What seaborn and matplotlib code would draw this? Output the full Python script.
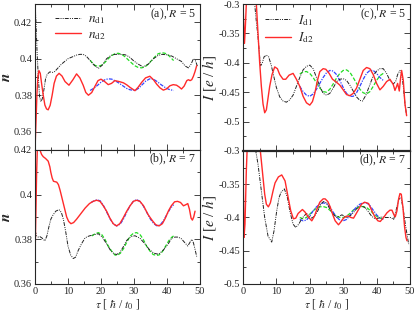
import numpy as np
import pandas as pd
import matplotlib
matplotlib.use("Agg")
import matplotlib.pyplot as plt
from matplotlib.ticker import MultipleLocator, FormatStrFormatter
import seaborn as sns

# ---- panel (a): occupations, R = 5 ----
t_a_d1 = [0, 0.3, 0.6, 1.0, 1.4, 1.8, 2.2, 2.7, 3.2, 3.7, 4.5, 5.3, 6.0, 7.0, 8.0, 9.0, 10.0, 11.3,
          12.6, 13.6, 14.6, 15.6, 16.7, 17.9, 19.2, 20.4, 21.7, 23.0, 24.2, 25.7, 27.3, 28.6, 29.8,
          31.3, 32.8, 34.3, 35.9, 37.2, 38.4, 39.9, 41.4, 42.9, 44.4, 45.5, 46.5, 47.3, 48.0, 48.6, 49.2]
n_a_d1 = [0.432, 0.42, 0.405, 0.39, 0.379, 0.3765, 0.378, 0.383, 0.389, 0.3915, 0.3928, 0.3925, 0.393,
          0.395, 0.397, 0.3985, 0.400, 0.401, 0.402, 0.4024, 0.4024, 0.4013, 0.399, 0.3965, 0.3947,
          0.3965, 0.400, 0.4018, 0.4024, 0.4024, 0.4022, 0.401, 0.399, 0.397, 0.3955, 0.397, 0.400,
          0.4017, 0.4024, 0.4022, 0.4015, 0.400, 0.3985, 0.396, 0.395, 0.397, 0.400, 0.399, 0.396]
t_a_d2 = [0, 0.3, 0.6, 0.9, 1.2, 1.6, 2.0, 2.5, 3.0, 3.5, 4.0, 4.6, 5.2, 5.8, 6.5, 7.3, 8.2, 9.1, 10.3,
          11.5, 12.6, 13.6, 14.6, 15.4, 16.2, 17.2, 18.2, 19.1, 20.0, 21.1, 22.2, 23.2, 24.2, 25.5,
          26.8, 27.8, 28.8, 30.3, 31.3, 32.3, 33.5, 34.8, 35.9, 36.9, 37.9, 38.9, 39.9, 40.9, 41.9,
          42.9, 43.7, 44.4, 45.2, 46.0, 46.5, 47.0, 47.5, 48.0, 48.5, 49.0]
n_a_d2 = [0.35, 0.365, 0.381, 0.3905, 0.3935, 0.392, 0.3865, 0.380, 0.3746, 0.3725, 0.372, 0.3745,
          0.380, 0.3865, 0.3905, 0.392, 0.3905, 0.3875, 0.3855, 0.3885, 0.3917, 0.3895, 0.3855,
          0.3815, 0.380, 0.3815, 0.385, 0.388, 0.3888, 0.3875, 0.3858, 0.3865, 0.388, 0.3875, 0.3868,
          0.3857, 0.3843, 0.3825, 0.3845, 0.387, 0.3895, 0.3904, 0.3885, 0.386, 0.384, 0.3828,
          0.3835, 0.3852, 0.3858, 0.3855, 0.3845, 0.3834, 0.385, 0.388, 0.3885, 0.388, 0.3885,
          0.3904, 0.393, 0.3962]
t_a_fit1 = [16.7, 17.5, 18.3, 19.2, 20.2, 21.2, 22.2, 23.2, 24.2, 25.2, 26.2, 27.2, 28.2, 29.2, 30.2,
            31.2, 32.3, 33.3, 34.3, 35.3, 36.3, 37.3, 38.4, 39.4, 40.4, 41.2, 42.0]
n_a_fit1 = [0.3992, 0.3975, 0.3962, 0.3958, 0.3965, 0.398, 0.400, 0.4017, 0.4027, 0.403, 0.4025,
            0.4012, 0.3995, 0.3978, 0.3962, 0.3953, 0.395, 0.3955, 0.397, 0.399, 0.401, 0.4027,
            0.4033, 0.403, 0.402, 0.4005, 0.399]
t_a_fit2 = [16.7, 17.8, 19.0, 20.1, 21.2, 22.2, 23.3, 24.4, 25.5, 26.6, 27.7, 28.8, 30.3, 31.4, 32.5,
            33.6, 34.8, 35.9, 37.0, 38.2, 39.4, 40.6, 42.0]
n_a_fit2 = [0.3826, 0.3838, 0.3855, 0.3873, 0.3885, 0.389, 0.3888, 0.3878, 0.3866, 0.3852, 0.3838,
            0.383, 0.3826, 0.3838, 0.3858, 0.3878, 0.389, 0.3888, 0.3875, 0.3858, 0.3843, 0.3832, 0.3826]

# ---- panel (b): occupations, R = 7 ----
t_b_d1 = [0, 0.5, 1.0, 1.5, 2.2, 3.0, 3.6, 4.2, 4.8, 5.5, 6.3, 7.3, 8.0, 8.6, 9.3, 10.0, 10.8, 11.6,
          12.3, 13.1, 14.1, 15.2, 16.4, 17.7, 19.2, 20.4, 21.7, 22.9, 24.0, 24.7, 25.7, 26.7, 27.8,
          29.0, 30.3, 31.8, 33.3, 34.6, 36.0, 37.4, 38.8, 40.4, 41.4, 42.4, 43.4, 44.4, 45.4, 46.3,
          46.9, 47.5, 48.0, 48.5, 49.0]
n_b_d1 = [0.384, 0.3815, 0.381, 0.3812, 0.3805, 0.3793, 0.3815, 0.3855, 0.389, 0.391, 0.3926, 0.3933,
          0.392, 0.389, 0.3835, 0.377, 0.373, 0.3714, 0.372, 0.375, 0.378, 0.3807, 0.3815, 0.382,
          0.3825, 0.381, 0.378, 0.375, 0.3735, 0.3732, 0.374, 0.3765, 0.3795, 0.3812, 0.3816, 0.3805,
          0.378, 0.3755, 0.3738, 0.3733, 0.375, 0.378, 0.3805, 0.381, 0.381, 0.3802, 0.3785, 0.377,
          0.3785, 0.380, 0.3785, 0.3755, 0.3723]
t_b_d2 = [0, 0.25, 0.5, 0.8, 1.5, 2.0, 2.5, 3.2, 4.0, 4.5, 4.8, 5.2, 5.6, 6.1, 6.6, 7.1, 7.6, 8.1, 8.6,
          9.1, 9.6, 10.2, 10.9, 11.7, 12.6, 13.9, 15.2, 16.5, 17.6, 18.7, 19.7, 20.7, 21.7, 22.7,
          23.7, 24.7, 25.7, 26.7, 27.8, 28.8, 29.8, 30.8, 31.8, 32.9, 34.3, 35.5, 36.6, 37.6, 38.6,
          39.5, 40.4, 41.3, 42.3, 43.2, 44.1, 45.0, 45.7, 46.3, 46.8, 47.3, 47.7, 48.1, 48.5]
n_b_d2 = [0.371, 0.39, 0.41, 0.425, 0.42, 0.418, 0.417, 0.4162, 0.415, 0.4125, 0.410, 0.4075, 0.406,
          0.4058, 0.4056, 0.4045, 0.402, 0.399, 0.396, 0.393, 0.390, 0.388, 0.387, 0.3875, 0.389,
          0.3915, 0.394, 0.396, 0.397, 0.3975, 0.397, 0.395, 0.3926, 0.3895, 0.387, 0.386, 0.387,
          0.3895, 0.3926, 0.395, 0.397, 0.3975, 0.397, 0.395, 0.391, 0.3885, 0.3865, 0.386, 0.387,
          0.3895, 0.3926, 0.395, 0.3968, 0.397, 0.3965, 0.395, 0.3955, 0.396, 0.3935, 0.3895,
          0.3886, 0.390, 0.3926]
t_b_fit1 = [17.2, 18.2, 19.2, 20.2, 21.2, 22.2, 23.2, 24.2, 24.9, 25.9, 26.9, 27.9, 28.9, 29.9, 30.8,
            31.8, 32.8, 33.8, 34.8, 35.8, 36.8, 37.6, 38.6, 39.6, 40.6, 41.5, 42.0]
n_b_fit1 = [0.3815, 0.3825, 0.383, 0.3822, 0.380, 0.377, 0.3748, 0.373, 0.3728, 0.3738, 0.376, 0.379,
            0.3815, 0.3828, 0.383, 0.3822, 0.380, 0.377, 0.3748, 0.3732, 0.3728, 0.373, 0.3745,
            0.377, 0.3795, 0.381, 0.3815]
t_b_fit2 = [17.0, 18.0, 18.8, 19.8, 20.8, 21.8, 22.8, 23.8, 24.8, 25.8, 26.8, 27.8, 28.8, 29.8, 30.8,
            31.8, 32.8, 33.9, 35.0, 36.0, 37.0, 38.0, 39.0, 40.0, 41.0, 42.0]
n_b_fit2 = [0.3965, 0.3973, 0.3977, 0.3972, 0.395, 0.392, 0.389, 0.3868, 0.386, 0.3868, 0.389,
            0.3922, 0.395, 0.397, 0.3978, 0.397, 0.395, 0.392, 0.389, 0.387, 0.386, 0.3865, 0.3885,
            0.3912, 0.3938, 0.3955]

# ---- panel (c): currents, R = 5 ----
t_c_d1 = [0, 3.0, 3.5, 4.0, 4.5, 5.0, 5.3, 5.8, 6.3, 7.0, 7.7, 8.5, 9.3, 10.0, 11.0, 12.0, 13.0, 14.0,
          15.0, 16.0, 17.0, 18.0, 19.0, 20.0, 21.0, 22.0, 23.0, 24.0, 25.0, 26.0, 27.0, 28.0, 29.0,
          30.0, 31.0, 32.0, 33.0, 34.0, 35.0, 35.8, 36.8, 38.0, 39.0, 40.0, 41.0, 42.0, 43.0, 44.0,
          45.0, 45.7, 46.3, 47.0, 47.5, 48.0, 48.5, 49.0]
i_c_d1 = [-0.28, -0.28, -0.30, -0.33, -0.356, -0.39, -0.405, -0.40, -0.39, -0.387, -0.39, -0.405,
          -0.425, -0.442, -0.458, -0.465, -0.467, -0.463, -0.455, -0.44, -0.425, -0.412, -0.406,
          -0.404, -0.41, -0.425, -0.44, -0.452, -0.455, -0.452, -0.443, -0.432, -0.428, -0.427,
          -0.43, -0.438, -0.448, -0.458, -0.464, -0.465, -0.455, -0.437, -0.422, -0.414, -0.41,
          -0.41, -0.418, -0.43, -0.436, -0.432, -0.42, -0.413, -0.418, -0.44, -0.47, -0.49]
t_c_d2 = [0, 0.2, 0.45, 0.7, 1.0, 1.3, 3.5, 4.0, 4.5, 5.0, 5.5, 6.0, 6.5, 7.0, 7.5, 8.0, 8.7, 9.5, 10.3,
          11.0, 12.0, 12.8, 13.8, 15.0, 16.0, 17.0, 18.0, 19.0, 20.0, 20.8, 21.5, 22.3, 23.0, 24.0,
          24.8, 25.8, 26.8, 27.8, 29.0, 30.0, 31.0, 32.0, 33.0, 34.0, 35.0, 36.0, 37.0, 38.0, 39.0,
          40.0, 41.0, 42.0, 43.0, 44.0, 45.0, 45.5, 46.0, 46.3, 46.8, 47.2, 47.5, 48.0, 48.5, 49.0]
i_c_d2 = [-0.30, -0.33, -0.367, -0.34, -0.30, -0.28, -0.28, -0.30, -0.35, -0.40, -0.44, -0.47,
          -0.485, -0.48, -0.46, -0.44, -0.42, -0.407, -0.41, -0.42, -0.428, -0.428, -0.421, -0.418,
          -0.428, -0.44, -0.457, -0.468, -0.472, -0.466, -0.452, -0.43, -0.415, -0.41, -0.411,
          -0.418, -0.428, -0.432, -0.438, -0.446, -0.454, -0.456, -0.452, -0.443, -0.428, -0.413,
          -0.408, -0.41, -0.42, -0.435, -0.446, -0.44, -0.432, -0.428, -0.437, -0.447, -0.44,
          -0.435, -0.448, -0.425, -0.413, -0.43, -0.47, -0.49]
t_c_fit1 = list(range(17, 43))
i_c_fit1 = [-0.419, -0.4155, -0.4148, -0.418, -0.425, -0.434, -0.443, -0.449, -0.45, -0.445, -0.436,
            -0.426, -0.418, -0.413, -0.412, -0.416, -0.425, -0.435, -0.445, -0.451, -0.453, -0.449,
            -0.44, -0.43, -0.422, -0.418]
t_c_fit2 = list(range(17, 43))
i_c_fit2 = [-0.44, -0.449, -0.455, -0.457, -0.453, -0.445, -0.435, -0.425, -0.417, -0.413, -0.414,
            -0.42, -0.43, -0.442, -0.452, -0.457, -0.457, -0.451, -0.44, -0.428, -0.418, -0.413,
            -0.413, -0.418, -0.425, -0.43]

# ---- panel (d): currents, R = 7 ----
t_d_d1 = [0, 3.5, 4.5, 5.5, 6.5, 7.5, 8.6, 9.3, 10.1, 10.8, 11.4, 12.4, 13.3, 14.1, 15.0, 15.8, 16.7,
          17.6, 18.4, 19.1, 19.8, 20.6, 21.4, 22.4, 23.3, 24.1, 25.0, 26.0, 27.0, 28.1, 28.9, 29.6,
          30.4, 31.1, 32.0, 33.0, 34.0, 34.8, 35.6, 36.5, 37.5, 38.5, 39.6, 40.6, 41.6, 42.6, 43.5,
          44.3, 45.1, 45.8, 46.6, 47.3, 47.9, 48.6, 49.1, 49.6]
i_d_d1 = [-0.28, -0.29, -0.32, -0.36, -0.40, -0.428, -0.437, -0.42, -0.39, -0.37, -0.362, -0.357,
          -0.37, -0.392, -0.41, -0.415, -0.41, -0.402, -0.397, -0.394, -0.398, -0.401, -0.398, -0.39,
          -0.38, -0.376, -0.378, -0.387, -0.395, -0.40, -0.398, -0.396, -0.398, -0.40, -0.398,
          -0.393, -0.387, -0.383, -0.383, -0.385, -0.391, -0.398, -0.402, -0.401, -0.399, -0.40,
          -0.40, -0.40, -0.403, -0.39, -0.373, -0.37, -0.385, -0.41, -0.425, -0.44]
t_d_d2 = [0, 0.3, 0.6, 1.0, 1.3, 4.8, 5.2, 5.8, 6.5, 7.0, 7.6, 8.2, 9.0, 9.6, 10.6, 11.6, 12.6, 13.6,
          14.3, 15.1, 15.8, 16.5, 17.8, 18.6, 19.5, 20.6, 21.4, 22.1, 23.0, 24.0, 24.6, 25.4, 26.1,
          26.9, 27.6, 28.6, 29.4, 30.1, 31.0, 31.6, 32.3, 33.1, 33.8, 34.6, 35.5, 36.4, 37.6, 38.6,
          39.6, 40.4, 41.1, 42.1, 43.1, 44.0, 44.6, 45.2, 45.6, 46.1, 46.6, 47.0, 47.4, 47.9, 48.4,
          48.8, 49.1]
i_d_d2 = [-0.30, -0.43, -0.41, -0.33, -0.29, -0.29, -0.30, -0.33, -0.365, -0.38, -0.384, -0.378,
          -0.36, -0.348, -0.339, -0.336, -0.345, -0.372, -0.39, -0.402, -0.401, -0.394, -0.388,
          -0.392, -0.399, -0.405, -0.398, -0.388, -0.377, -0.372, -0.372, -0.376, -0.384, -0.396,
          -0.405, -0.411, -0.406, -0.401, -0.398, -0.398, -0.40, -0.401, -0.395, -0.388, -0.38,
          -0.377, -0.379, -0.39, -0.40, -0.405, -0.406, -0.40, -0.393, -0.389, -0.389, -0.396,
          -0.399, -0.39, -0.372, -0.364, -0.365, -0.385, -0.415, -0.43, -0.435]
t_d_fit1 = list(range(17, 43))
i_d_fit1 = [-0.40, -0.402, -0.40, -0.395, -0.39, -0.386, -0.384, -0.3835, -0.385, -0.389, -0.394,
            -0.398, -0.40, -0.40, -0.398, -0.394, -0.389, -0.386, -0.384, -0.3835, -0.385, -0.389,
            -0.394, -0.398, -0.401, -0.402]
t_d_fit2 = list(range(17, 43))
i_d_fit2 = [-0.403, -0.405, -0.404, -0.398, -0.39, -0.384, -0.38, -0.378, -0.379, -0.384, -0.392,
            -0.399, -0.404, -0.405, -0.403, -0.397, -0.39, -0.384, -0.38, -0.378, -0.378, -0.382,
            -0.389, -0.396, -0.401, -0.403]

n_ticks = [0.36, 0.38, 0.40, 0.42]
i_ticks = [-0.5, -0.45, -0.4, -0.35, -0.3]
panel_texts = [r"(a), $R$ = 5", r"(b), $R$ = 7", r"(c), $R$ = 5", r"(d), $R$ = 7"]

sns.set_style("ticks")
plt.rcParams["font.family"] = ["Liberation Serif", "DejaVu Serif"]
plt.rcParams["mathtext.fontset"] = "stix"
plt.rcParams["axes.unicode_minus"] = False
plt.rcParams["xtick.direction"] = "in"
plt.rcParams["ytick.direction"] = "in"

RED = "#ff2a2a"
GREEN = "#22dd22"
BLUE = "#3344ff"
DASHDOTDOT = (0, (4, 1.2, 1, 1.2, 1, 1.2))


def draw(ax, t1, v1, t2, v2, tf1, vf1, tf2, vf2):
    # fits first so the data lines sit on top where they overlap
    sns.lineplot(x=tf1, y=vf1, ax=ax, color=GREEN, lw=0.9, linestyle=(0, (3, 1.5)),
                 sort=False, estimator=None)
    sns.lineplot(x=tf2, y=vf2, ax=ax, color=BLUE, lw=0.9, linestyle=(0, (3, 1, 1, 1)),
                 sort=False, estimator=None)
    sns.lineplot(x=t1, y=v1, ax=ax, color="#222222", lw=0.7, linestyle=DASHDOTDOT,
                 sort=False, estimator=None)
    sns.lineplot(x=t2, y=v2, ax=ax, color=RED, lw=1.0, sort=False, estimator=None)
    return ax.lines[2], ax.lines[3]


def style(ax, ylim, yticks, minor, show_x):
    ax.set_xlim(0, 50)
    ax.set_ylim(*ylim)
    ax.xaxis.set_major_locator(MultipleLocator(10))
    ax.xaxis.set_minor_locator(MultipleLocator(5))
    ax.set_yticks(yticks)
    ax.yaxis.set_minor_locator(MultipleLocator(minor))
    ax.yaxis.set_major_formatter(FormatStrFormatter("%g"))
    ax.tick_params(which="both", top=True, right=True, labelsize=7.5, pad=2, width=0.6)
    ax.tick_params(which="major", length=4)
    ax.tick_params(which="minor", length=2.5)
    if not show_x:
        ax.tick_params(axis="x", labelbottom=False)
    for sp in ax.spines.values():
        sp.set_linewidth(0.8)
    ax.set_xlabel("")
    ax.set_ylabel("")


fig = plt.figure(figsize=(4.15, 3.13), dpi=100)
ax_a = fig.add_axes([0.0843, 0.5208, 0.3976, 0.4665])
ax_b = fig.add_axes([0.0843, 0.0927, 0.3976, 0.4281])
ax_c = fig.add_axes([0.5855, 0.5176, 0.4024, 0.4696])
ax_d = fig.add_axes([0.5855, 0.0927, 0.4024, 0.4249])

la = draw(ax_a, t_a_d1, n_a_d1, t_a_d2, n_a_d2, t_a_fit1, n_a_fit1, t_a_fit2, n_a_fit2)
draw(ax_b, t_b_d1, n_b_d1, t_b_d2, n_b_d2, t_b_fit1, n_b_fit1, t_b_fit2, n_b_fit2)
lc = draw(ax_c, t_c_d1, i_c_d1, t_c_d2, i_c_d2, t_c_fit1, i_c_fit1, t_c_fit2, i_c_fit2)
draw(ax_d, t_d_d1, i_d_d1, t_d_d2, i_d_d2, t_d_fit1, i_d_fit1, t_d_fit2, i_d_fit2)

style(ax_a, (0.35, 0.43), n_ticks, 0.01, False)
style(ax_b, (0.36, 0.42), n_ticks, 0.01, True)
style(ax_c, (-0.55, -0.3), i_ticks, 0.025, False)
style(ax_d, (-0.5, -0.3), i_ticks, 0.025, True)
ax_d.spines["top"].set_linewidth(1.6)

for ax, txt in zip([ax_a, ax_b, ax_c, ax_d], panel_texts):
    ax.text(0.975, 0.93, txt, transform=ax.transAxes, ha="right", va="center", fontsize=8.5)

ax_a.legend(la, [r"$n_{\rm d1}$", r"$n_{\rm d2}$"], loc="upper left", bbox_to_anchor=(0.05, 1.02),
            frameon=False, fontsize=9.5, handlelength=2.0, handletextpad=0.5, labelspacing=0.2)
ax_c.legend(lc, [r"$I_{\rm d1}$", r"$I_{\rm d2}$"], loc="upper left", bbox_to_anchor=(0.06, 1.02),
            frameon=False, fontsize=9.5, handlelength=2.0, handletextpad=0.5, labelspacing=0.2)

for ax in (ax_a, ax_b):
    ax.set_ylabel(r"$\boldsymbol{n}$", fontsize=11, labelpad=1)
for ax in (ax_c, ax_d):
    ax.set_ylabel(r"$I$ [$e$ / $h$]", fontsize=11, labelpad=0)
for ax in (ax_b, ax_d):
    ax.set_xlabel(r"$\tau$ [ $\hbar$ / $t_0$ ]", fontsize=8.5, labelpad=1)

fig.savefig("out.png", dpi=100)
